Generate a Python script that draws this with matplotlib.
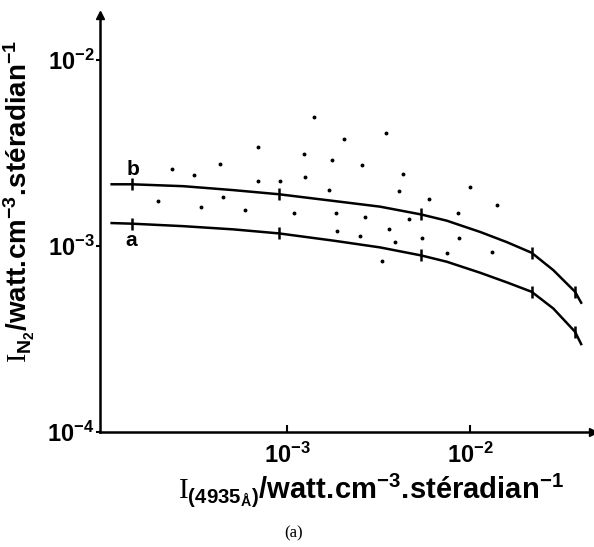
import math
import matplotlib
matplotlib.use('Agg')
import matplotlib.pyplot as plt
from matplotlib.ticker import FixedLocator, NullLocator, FuncFormatter

plt.rcParams['font.family'] = ['Liberation Sans', 'DejaVu Sans']
plt.rcParams['mathtext.fontset'] = 'custom'
plt.rcParams['mathtext.rm'] = 'Liberation Serif'
plt.rcParams['mathtext.bf'] = 'Liberation Sans:bold'
plt.rcParams['mathtext.it'] = 'Liberation Sans:italic'
plt.rcParams['mathtext.sf'] = 'Liberation Sans'

# curve b (upper) and curve a (lower)
curve_x = [1.10e-4, 1.42e-4, 2.71e-4, 5.09e-4, 9.04e-4, 1.79e-3, 3.22e-3,
           5.40e-3, 7.46e-3, 1.14e-2, 1.59e-2, 2.17e-2, 2.85e-2, 3.75e-2,
           4.05e-2]
curve_b = [2.15e-3, 2.15e-3, 2.10e-3, 2.00e-3, 1.90e-3, 1.75e-3, 1.63e-3,
           1.48e-3, 1.37e-3, 1.19e-3, 1.05e-3, 9.21e-4, 7.43e-4, 5.68e-4,
           4.96e-4]
curve_a = [1.33e-3, 1.32e-3, 1.28e-3, 1.23e-3, 1.17e-3, 1.07e-3, 9.84e-4,
           8.91e-4, 8.24e-4, 7.18e-4, 6.38e-4, 5.68e-4, 4.62e-4, 3.46e-4,
           2.97e-4]
# points on the curves that carry a small vertical mark
mark_idx = [1, 4, 7, 11, 13]

# measured points (scatter)
pts_x = [1.98e-4, 2.34e-4, 3.11e-4, 3.38e-4, 4.32e-4, 4.47e-4, 5.89e-4,
         6.97e-4, 6.97e-4, 9.19e-4, 1.09e-3, 1.24e-3, 1.26e-3, 1.41e-3,
         1.70e-3, 1.77e-3, 1.85e-3, 1.87e-3, 2.06e-3, 2.51e-3, 2.58e-3,
         2.66e-3, 3.29e-3, 3.46e-3, 3.60e-3, 3.89e-3, 4.07e-3, 4.31e-3,
         4.62e-3, 5.47e-3, 6.00e-3, 7.46e-3, 8.57e-3, 8.67e-3, 1.00e-2,
         1.32e-2, 1.40e-2]
pts_y = [1.75e-3, 2.59e-3, 2.41e-3, 1.62e-3, 2.75e-3, 1.83e-3, 1.56e-3,
         3.42e-3, 2.25e-3, 2.25e-3, 1.50e-3, 3.13e-3, 2.36e-3, 4.95e-3,
         2.00e-3, 2.89e-3, 1.51e-3, 1.21e-3, 3.75e-3, 1.13e-3, 2.72e-3,
         1.43e-3, 8.28e-4, 4.08e-3, 1.23e-3, 1.05e-3, 1.98e-3, 2.43e-3,
         1.40e-3, 1.11e-3, 1.80e-3, 9.14e-4, 1.50e-3, 1.10e-3, 2.07e-3,
         9.29e-4, 1.67e-3]

xticks = [1e-3, 1e-2]
yticks = [1e-4, 1e-3, 1e-2]

# "." normally gets a thin space after it in mathtext, \! takes it back
unit = r'\mathbf{/watt.\!cm^{-3}.\!stéradian^{-1}}'


def pow_label(v, pos):
    e = int(round(math.log10(v)))
    return r'$\mathbf{10^{%d}}$' % e


fig = plt.figure(figsize=(5.94, 5.47), dpi=100)
ax = fig.add_axes([100 / 594, 115 / 547, 493 / 594, 417 / 547])
ax.set_xscale('log')
ax.set_yscale('log')
ax.set_xlim(9.5e-5, 4.7e-2)
ax.set_ylim(1e-4, 1.75e-2)

ax.plot(curve_x, curve_b, color='black', lw=1.8)
ax.plot(curve_x, curve_a, color='black', lw=1.8)
mx = [curve_x[i] for i in mark_idx]
ax.plot(mx, [curve_b[i] for i in mark_idx], ls='none', marker='|',
        ms=9, mew=1.8, color='black')
ax.plot(mx, [curve_a[i] for i in mark_idx], ls='none', marker='|',
        ms=9, mew=1.8, color='black')
ax.plot(pts_x, pts_y, ls='none', marker='o', ms=1.8, color='black')

ax.text(1.44e-4, 2.30e-3, 'b', fontsize=15, fontweight='bold',
        ha='center', va='bottom')
ax.text(1.40e-4, 1.20e-3, 'a', fontsize=15, fontweight='bold',
        ha='center', va='top')

for s in ['top', 'right']:
    ax.spines[s].set_visible(False)
for s in ['left', 'bottom']:
    ax.spines[s].set_linewidth(1.8)
ax.plot(1, 0, '>k', ms=6, transform=ax.transAxes, clip_on=False)
ax.plot(0, 1, '^k', ms=6, transform=ax.transAxes, clip_on=False)

ax.xaxis.set_major_locator(FixedLocator(xticks))
ax.yaxis.set_major_locator(FixedLocator(yticks))
ax.xaxis.set_minor_locator(NullLocator())
ax.yaxis.set_minor_locator(NullLocator())
ax.xaxis.set_major_formatter(FuncFormatter(pow_label))
ax.yaxis.set_major_formatter(FuncFormatter(pow_label))
ax.tick_params(axis='x', direction='in', length=5, width=1.5,
               labelsize=17, pad=8)
ax.tick_params(axis='y', direction='out', length=3, width=1.5,
               labelsize=17, pad=1)

ax.set_xlabel(r'$\mathrm{I}_{\mathbf{(4935_{Å})}}' + unit + '$', fontsize=21)
ax.set_ylabel(r'$\mathrm{I}_{\mathbf{N_2}}' + unit + '$', fontsize=20)
ax.xaxis.set_label_coords(0.55, -0.095)
ax.yaxis.set_label_coords(-0.128, 0.552)

fig.text(294 / 594, 1 - 533 / 547, '(a)', fontsize=12,
         family='Liberation Serif', ha='center', va='center')

fig.savefig('out.png', dpi=100)
